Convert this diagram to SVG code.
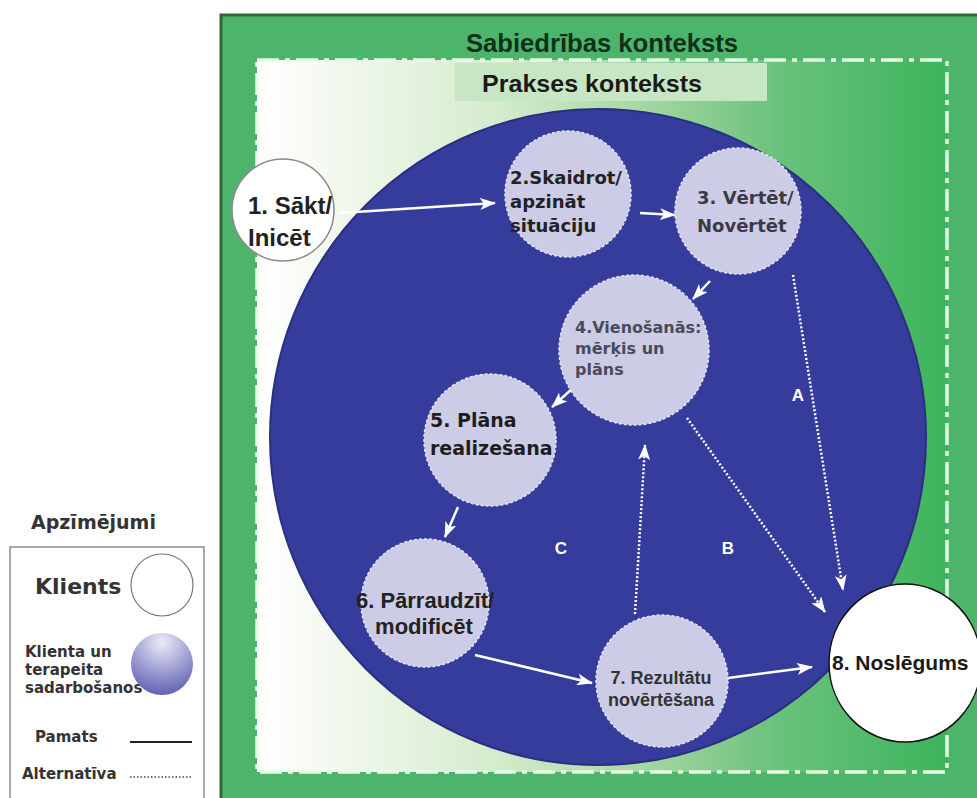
<svg xmlns="http://www.w3.org/2000/svg" width="977" height="798" viewBox="0 0 977 798">
<defs>
  <linearGradient id="innerGrad" x1="257" y1="0" x2="947" y2="0" gradientUnits="userSpaceOnUse">
    <stop offset="0" stop-color="#ffffff"/>
    <stop offset="0.12" stop-color="#f2f8ee"/>
    <stop offset="0.35" stop-color="#d4ebcc"/>
    <stop offset="0.55" stop-color="#a8d8a4"/>
    <stop offset="0.75" stop-color="#6cc27c"/>
    <stop offset="1" stop-color="#3cb45c"/>
  </linearGradient>
  <radialGradient id="legendGrad" cx="50%" cy="15%" r="90%">
    <stop offset="0" stop-color="#ececf6"/>
    <stop offset="0.55" stop-color="#9a9ad2"/>
    <stop offset="1" stop-color="#5a5aae"/>
  </radialGradient>
  <marker id="ah" viewBox="0 0 16 12" refX="15" refY="6" markerWidth="16" markerHeight="12" markerUnits="userSpaceOnUse" orient="auto">
    <path d="M0,0 L16,6 L0,12 L4,6 z" fill="#ffffff"/>
  </marker>
  <style>
    .proc { fill: #cdcce6; stroke: #e4e4f4; stroke-width: 1.5; stroke-dasharray: 3 2; }
    .t19 { font-family: "DejaVu Sans", Verdana, sans-serif; font-weight: bold; font-size: 19px; }
    .t18 { font-family: "DejaVu Sans", Verdana, sans-serif; font-weight: bold; font-size: 18px; }
    .t16 { font-family: "DejaVu Sans", Verdana, sans-serif; font-weight: bold; font-size: 16px; }
    .arial { font-family: "Liberation Sans", Arial, sans-serif; font-weight: bold; }
    .solid { stroke: #ffffff; stroke-width: 2.5; fill: none; marker-end: url(#ah); }
    .dotted { stroke: #ffffff; stroke-width: 2.5; fill: none; stroke-dasharray: 2 2; marker-end: url(#ah); }
    .lbl { font-family: "Liberation Sans", Arial, sans-serif; font-weight: bold; font-size: 17px; fill: #ffffff; text-anchor: middle; }
    .leg { font-family: "DejaVu Sans", Verdana, sans-serif; font-weight: bold; fill: #333333; }
  </style>
</defs>

<!-- Society context frame -->
<g id="society-context">
  <rect x="221" y="15" width="760" height="790" fill="#4cb56b" stroke="#2d6a3a" stroke-width="3"/>
  <text x="602" y="52" text-anchor="middle" font-family="'Liberation Sans Narrow','Liberation Sans',Arial,sans-serif" font-weight="bold" font-size="25" fill="#10301a" textLength="272" lengthAdjust="spacingAndGlyphs">Sabiedrības konteksts</text>
</g>

<!-- Practice context -->
<g id="practice-context">
  <rect x="257" y="60" width="690" height="712" fill="url(#innerGrad)" stroke="#e6fbe6" stroke-width="3.5" stroke-dasharray="22 6 5 6"/>
  <rect x="455" y="63" width="312" height="38" fill="#c6e6c4"/>
  <text x="592" y="92" text-anchor="middle" font-family="'Liberation Sans Narrow','Liberation Sans',Arial,sans-serif" font-weight="bold" font-size="24" fill="#1a1a1a" textLength="220" lengthAdjust="spacingAndGlyphs">Prakses konteksts</text>
</g>

<!-- Collaboration area -->
<g id="collaboration">
  <circle cx="598" cy="437" r="328" fill="#363c9c" stroke="#2a2f80" stroke-width="2"/>
</g>

<g id="connectors">
  <line class="solid" x1="340" y1="213" x2="495" y2="203"/>
  <line class="solid" x1="640" y1="213" x2="675" y2="215"/>
  <line class="solid" x1="710" y1="281" x2="693" y2="299"/>
  <line class="solid" x1="573" y1="388" x2="552" y2="407"/>
  <line class="solid" x1="458" y1="507" x2="445" y2="537"/>
  <line class="solid" x1="475" y1="655" x2="592" y2="683"/>
  <line class="solid" x1="728" y1="678" x2="812" y2="667"/>
  <line class="dotted" x1="793" y1="275" x2="843" y2="590"/>
  <line class="dotted" x1="687" y1="418" x2="825" y2="612"/>
  <line class="dotted" x1="635" y1="614" x2="645" y2="445"/>
  <text class="lbl" x="798" y="401">A</text>
  <text class="lbl" x="728" y="554">B</text>
  <text class="lbl" x="561" y="554">C</text>
</g>

<g id="node1">
  <circle cx="283" cy="210" r="51" fill="#ffffff" stroke="#8a8a8a" stroke-width="1.5"/>
  <text class="arial" x="248" y="214" font-size="24" fill="#222222">1. Sākt/</text>
  <text class="arial" x="248" y="246" font-size="24" fill="#222222">Inicēt</text>
</g>

<g id="node2">
  <circle class="proc" cx="568" cy="194" r="63"/>
  <text class="t18" x="510" y="184" fill="#222222">2.Skaidrot/</text>
  <text class="t18" x="510" y="208" fill="#222222">apzināt</text>
  <text class="t18" x="510" y="232" fill="#222222">situāciju</text>
</g>

<g id="node3">
  <circle class="proc" cx="738" cy="211" r="63"/>
  <text class="t18" x="697" y="204" fill="#3a3a44">3. Vērtēt/</text>
  <text class="t18" x="697" y="232" fill="#3a3a44">Novērtēt</text>
</g>

<g id="node4">
  <circle class="proc" cx="634" cy="350" r="75"/>
  <text class="t16" x="575" y="333" fill="#4a4a58">4.Vienošanās:</text>
  <text class="t16" x="575" y="354" fill="#4a4a58">mērķis un</text>
  <text class="t16" x="575" y="375" fill="#4a4a58">plāns</text>
</g>

<g id="node5">
  <circle class="proc" cx="490" cy="440" r="66"/>
  <text class="t19" x="430" y="427" fill="#1e1e1e">5. Plāna</text>
  <text class="t19" x="430" y="455" fill="#1e1e1e">realizešana</text>
</g>

<g id="node6">
  <circle class="proc" cx="425" cy="603" r="64"/>
  <text class="arial" x="425" y="608" font-size="22" text-anchor="middle" fill="#222222">6. Pārraudzīt/</text>
  <text class="arial" x="424" y="634" font-size="22" text-anchor="middle" fill="#222222">modificēt</text>
</g>

<g id="node7">
  <circle class="proc" cx="662" cy="681" r="66"/>
  <text class="arial" x="661" y="684" font-size="18" text-anchor="middle" fill="#333333">7. Rezultātu</text>
  <text class="arial" x="661" y="706" font-size="18" text-anchor="middle" fill="#333333">novērtēšana</text>
</g>

<g id="node8">
  <ellipse cx="905" cy="663" rx="76" ry="79" fill="#ffffff" stroke="#111111" stroke-width="1.5"/>
  <text class="arial" x="832" y="670" font-size="21" fill="#1a1a1a">8. Noslēgums</text>
</g>

<!-- Legend -->
<g id="legend">
  <text class="leg" x="31" y="529" font-size="19">Apzīmējumi</text>
  <rect x="10" y="547" width="194" height="260" fill="#ffffff" stroke="#8c8c8c" stroke-width="1.5"/>
  <g id="legend-client">
    <text class="leg" x="35" y="594" font-size="22" fill="#222222">Klients</text>
    <circle cx="162" cy="585" r="31" fill="#ffffff" stroke="#777777" stroke-width="1.2"/>
  </g>
  <g id="legend-collab">
    <text class="leg" x="25" y="657" font-size="15">Klienta un</text>
    <text class="leg" x="25" y="675" font-size="15">terapeita</text>
    <text class="leg" x="25" y="693" font-size="15">sadarbošanos</text>
    <circle cx="162" cy="664" r="31" fill="url(#legendGrad)"/>
  </g>
  <g id="legend-main">
    <text class="leg" x="35" y="742" font-size="15">Pamats</text>
    <line x1="130" y1="742" x2="192" y2="742" stroke="#222222" stroke-width="2"/>
  </g>
  <g id="legend-alt">
    <text class="leg" x="22" y="779" font-size="15">Alternatīva</text>
    <line x1="130" y1="777" x2="192" y2="777" stroke="#444444" stroke-width="1.5" stroke-dasharray="1.5 2"/>
  </g>
</g>
</svg>
